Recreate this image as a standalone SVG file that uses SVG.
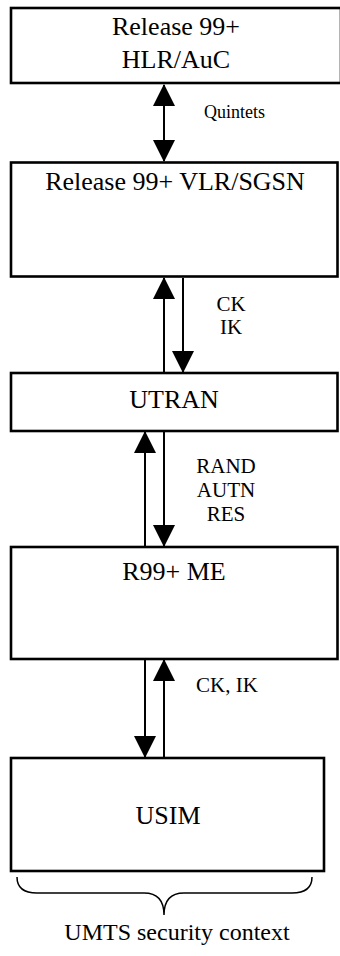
<svg xmlns="http://www.w3.org/2000/svg" width="340" height="956" viewBox="0 0 340 956">
<style>
.box{fill:#fff;stroke:#000;stroke-width:2.6}
text{font-family:'Liberation Serif','Times New Roman','DejaVu Serif',serif;fill:#000;text-anchor:middle}
.t{font-size:26px}
.l{font-size:21px}
.c{stroke:#000;stroke-width:2;fill:none}
</style>
<defs>
<marker id="ah" markerUnits="userSpaceOnUse" markerWidth="22" markerHeight="22" refX="21" refY="11" orient="auto-start-reverse" viewBox="0 0 22 22">
<path d="M0,0 L22,11 L0,22 Z" fill="#000"/>
</marker>
</defs>
<g id="hlr">
<rect class="box" x="11" y="8" width="330" height="75"/>
<text class="t" x="176" y="35">Release 99+</text>
<text class="t" x="176" y="68">HLR/AuC</text>
</g>
<g id="vlr">
<rect class="box" x="11" y="162.5" width="326.5" height="114"/>
<text class="t" x="175" y="190">Release 99+ VLR/SGSN</text>
</g>
<g id="utran">
<rect class="box" x="11" y="373" width="326.5" height="58"/>
<text class="t" x="174" y="408">UTRAN</text>
</g>
<g id="me">
<rect class="box" x="11" y="547" width="326.5" height="112"/>
<text class="t" x="174" y="580">R99+ ME</text>
</g>
<g id="usim">
<rect class="box" x="11" y="758" width="313" height="113"/>
<text class="t" x="168" y="824">USIM</text>
</g>
<g id="connectors">
<line class="c" x1="164" y1="85" x2="164" y2="161" marker-start="url(#ah)" marker-end="url(#ah)"/>
<line class="c" x1="164" y1="372" x2="164" y2="278" marker-end="url(#ah)"/>
<line class="c" x1="183" y1="278" x2="183" y2="372" marker-end="url(#ah)"/>
<line class="c" x1="145" y1="546" x2="145" y2="432" marker-end="url(#ah)"/>
<line class="c" x1="164" y1="432" x2="164" y2="546" marker-end="url(#ah)"/>
<line class="c" x1="145" y1="660" x2="145" y2="757" marker-end="url(#ah)"/>
<line class="c" x1="164" y1="757" x2="164" y2="660" marker-end="url(#ah)"/>
</g>
<g id="labels">
<text class="l" x="204" y="118" style="font-size:18px;text-anchor:start">Quintets</text>
<text class="l" x="231" y="311">CK</text>
<text class="l" x="231" y="334">IK</text>
<text class="l" x="226" y="473">RAND</text>
<text class="l" x="226" y="497">AUTN</text>
<text class="l" x="226" y="521">RES</text>
<text class="l" x="227" y="692">CK, IK</text>
</g>
<g id="context">
<path class="c" style="stroke-width:1.5" d="M17,877 Q17,893 37,893 L144,893 Q164,893 164,915 Q164,893 184,893 L292,893 Q312,893 312,877"/>
<text x="177" y="940" style="font-size:24px">UMTS security context</text>
</g>
</svg>
